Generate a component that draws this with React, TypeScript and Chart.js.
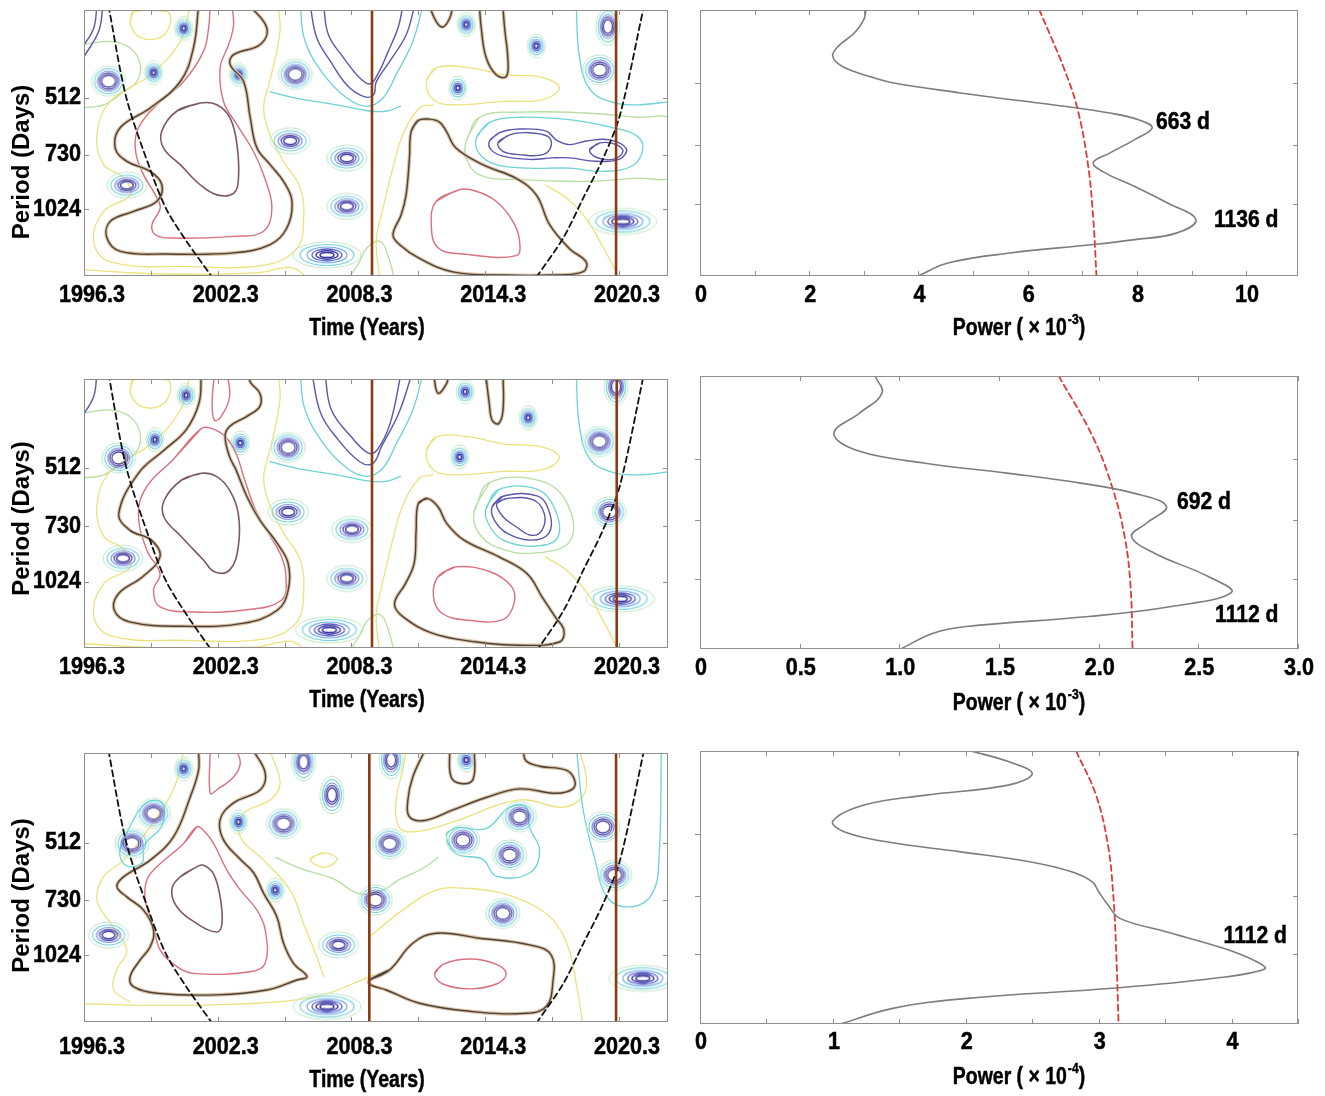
import React, { useEffect, useRef } from 'react';
import { Chart, registerables } from 'chart.js';

Chart.register(...registerables);

type Pt = [number, number];

const SANS = '"Liberation Sans", Arial, sans-serif';
// horizontal condensation used to mimic the narrow bold face of the original
const SQ_TICK = 0.9;
const SQ_TITLE = 0.81;
const SQ_NOTE = 0.88;

// ---------------- axes ----------------
const YEAR_MIN = 1996.3;
const YEAR_MAX = 2022.5;
const YEAR_TICKS = [1996.3, 1999.3, 2002.3, 2005.3, 2008.3, 2011.3, 2014.3, 2017.3, 2020.3];
const YEAR_LABELS = [1996.3, 2002.3, 2008.3, 2014.3, 2020.3];
const PERIOD_TICKS = [512, 730, 1024];
const LEFT_PERIOD_RANGES: Pt[] = [[297, 1549], [299, 1530], [294, 1549]];
const RIGHT_PERIOD_RANGES: Pt[] = [[337, 1547], [316, 1538], [316, 1536]];
const EVENT_YEARS: number[][] = [[2009.22, 2020.17], [2009.22, 2020.2], [2009.1, 2020.17]];

const POWER1_TICKS = [0, 1, 2, 3, 4, 5, 6, 7, 8, 9, 10];
const POWER1_LABELS = [0, 2, 4, 6, 8, 10];
const POWER2_TICKS = [0, 0.5, 1, 1.5, 2, 2.5, 3];
const POWER2_LABELS = [0, 0.5, 1, 1.5, 2, 2.5, 3];
const POWER3_TICKS = [0, 0.5, 1, 1.5, 2, 2.5, 3, 3.5, 4, 4.5];
const POWER3_LABELS = [0, 1, 2, 3, 4];
const POWER_MAX = [10.95, 3, 4.5];
const POWER_EXP = ['-3', '-3', '-4'];

// ---------------- cone of influence ----------------
const COI_LEFT: Pt[] = [[1997.4, 290], [1998.2, 512], [1999.3, 808], [2000.0, 1024], [2000.9, 1249], [2002.05, 1560]];
const COI_RIGHT: Pt[] = [[2016.6, 1560], [2017.8, 1223], [2018.7, 954], [2019.6, 744], [2020.35, 569], [2021.42, 290]];

// ---------------- row 1 contours ----------------
const R1_SIG_A: Pt[] = [[2001.44, 290], [2001.21, 376], [2000.62, 463], [1999.27, 546], [1997.93, 616], [1997.7, 700], [1998.22, 760], [1999.27, 809], [1999.79, 879], [1999.57, 974], [1998.52, 1037], [1997.48, 1103], [1997.33, 1224], [1997.93, 1329], [2000.02, 1351], [2003.01, 1342], [2004.65, 1275], [2005.4, 1150], [2005.63, 974], [2005.25, 861], [2004.65, 776], [2004.06, 700], [2003.76, 581], [2003.46, 463], [2002.86, 417], [2003.01, 392], [2004.21, 368], [2004.5, 332], [2003.76, 290]];
const R1_SIG_B: Pt[] = [[2011.28, 590], [2010.98, 630], [2010.9, 744], [2010.75, 936], [2010.53, 1059], [2010.16, 1199], [2010.46, 1275], [2011.35, 1389], [2012.85, 1510], [2015.09, 1540], [2017.33, 1540], [2018.68, 1510], [2018.83, 1421], [2018.08, 1307], [2017.19, 1126], [2016.59, 936], [2015.69, 845], [2014.19, 776], [2012.99, 700], [2012.55, 630], [2012.25, 596], [2011.8, 585]];
const R1_SIG_C: Pt[] = [[2014.04, 290], [2014.12, 332], [2014.34, 399], [2014.79, 444], [2015.24, 449], [2015.32, 407], [2015.17, 332], [2015.09, 290]];
const R1_SIG_D: Pt[] = [[2011.8, 290], [2012.1, 319], [2012.4, 330], [2012.7, 313], [2012.85, 290]];
const R1_RED_A: Pt[] = [[2001.96, 290], [2001.89, 332], [2001.66, 384], [2000.77, 463], [1999.57, 535], [1998.75, 616], [1998.6, 700], [1998.9, 809], [1999.5, 936], [1999.72, 1015], [1999.35, 1126], [1999.5, 1199], [2000.17, 1224], [2003.01, 1211], [2004.36, 1173], [2004.73, 1014], [2004.36, 827], [2003.91, 716], [2003.16, 605], [2002.56, 524], [2002.41, 425], [2002.79, 368], [2003.01, 326], [2002.94, 290]];
const R1_RED_B: Pt[] = [[2013.15, 906], [2012.1, 974], [2011.88, 1126], [2012.18, 1300], [2013.3, 1351], [2015.69, 1365], [2015.84, 1245], [2015.54, 1103], [2014.79, 974], [2013.9, 915]];
const R1_CORE_A: Pt[] = [[2001.51, 529], [2000.47, 556], [1999.79, 630], [1999.87, 700], [2000.62, 776], [2001.51, 879], [2002.26, 936], [2003.01, 927], [2003.23, 844], [2003.16, 684], [2002.86, 582], [2002.26, 535]];
const R1_PURPLE_U1: Pt[] = [[2006.45, 290], [2006.75, 354], [2007.35, 408], [2008.09, 473], [2008.84, 508], [2009.29, 503], [2009.41, 464], [2010.01, 409], [2010.75, 347], [2011.13, 290]];
const R1_PURPLE_U2: Pt[] = [[2007.05, 290], [2007.27, 347], [2007.94, 399], [2008.69, 454], [2009.14, 470], [2009.5, 440], [2009.9, 390], [2010.4, 330], [2010.6, 290]];
const R1_PURPLE_CORNER1: Pt[] = [[1996.2, 377], [1996.73, 333], [1996.88, 290]];
const R1_PURPLE_CORNER2: Pt[] = [[1996.2, 405], [1996.95, 340], [1997.15, 290]];
const R1_PURPLE_DUMB: Pt[] = [[2014.49, 670], [2014.94, 636], [2015.84, 622], [2017.04, 630], [2017.48, 665], [2018.08, 685], [2018.83, 670], [2019.88, 665], [2020.63, 703], [2020.33, 750], [2019.28, 760], [2018.08, 744], [2017.33, 744], [2016.29, 751], [2015.09, 736], [2014.57, 708]];
const R1_PURPLE_LOOP_L: Pt[] = [[2014.87, 678], [2015.39, 645], [2016.14, 636], [2017.11, 651], [2017.26, 690], [2016.89, 729], [2015.84, 729], [2015.09, 714]];
const R1_PURPLE_LOOP_R: Pt[] = [[2018.98, 708], [2019.43, 678], [2020.18, 685], [2020.48, 716], [2020.03, 751], [2019.28, 741]];
const R1_CYAN_DUMB: Pt[] = [[2013.9, 657], [2014.49, 597], [2015.84, 578], [2018.08, 587], [2019.88, 614], [2021.07, 647], [2021.37, 700], [2020.92, 780], [2019.58, 809], [2018.08, 793], [2016.29, 793], [2014.79, 776], [2014.04, 726]];
const R1_GREEN_DUMB: Pt[] = [[2013.45, 670], [2014.04, 578], [2015.84, 560], [2018.83, 563], [2021.07, 578], [2022.7, 591], [2022.7, 827], [2021.07, 844], [2018.83, 861], [2015.84, 852], [2014.04, 827], [2013.45, 744]];

// background contours shared by rows 1 and 2
const BG_CYAN_U: Pt[] = [[2006.0, 290], [2006.22, 361], [2007.05, 443], [2008.09, 513], [2008.99, 540], [2009.71, 513], [2010.31, 443], [2011.05, 361], [2011.5, 290]];
const BG_CYAN_MID: Pt[] = [[2004.65, 494], [2005.85, 514], [2007.65, 535], [2009.14, 556], [2009.9, 556], [2010.5, 540]];
const BG_CYAN_RIGHT: Pt[] = [[2018.38, 290], [2018.53, 399], [2018.98, 485], [2019.88, 524], [2021.07, 535], [2022.7, 524]];
const BG_GREEN_LEFT: Pt[] = [[1996.2, 545], [1997.18, 535], [1998.07, 494], [1998.67, 463], [1998.82, 417], [1998.37, 376], [1997.48, 361], [1996.2, 368]];
const BG_YEL_A: Pt[] = [[2001.06, 290], [2000.62, 361], [1999.27, 445], [1997.48, 524], [1996.88, 645], [1997.18, 776], [1998.07, 840], [1998.37, 936], [1997.18, 1037], [1996.73, 1250], [1997.48, 1420], [2000.77, 1460], [2004.5, 1445], [2005.85, 1307], [2006.15, 1100], [2006.0, 897], [2005.25, 760], [2004.65, 645], [2004.36, 547], [2004.6, 470], [2004.8, 420], [2005.0, 370], [2005.1, 330], [2005.0, 290]];
const BG_YEL_BOTTOM: Pt[] = [[1996.2, 1490], [2000.0, 1530], [2004.0, 1520], [2005.6, 1470], [2006.3, 1560]];
const BG_YEL_TOPLOOP: Pt[] = [[1998.52, 300], [1998.37, 323], [1998.82, 352], [1999.72, 352], [2000.17, 323], [2000.02, 300]];
const BG_YEL_B: Pt[] = [[2009.56, 1560], [2009.41, 1250], [2009.71, 1020], [2010.16, 790], [2010.6, 645], [2011.35, 546], [2011.95, 535]];
const BG_YEL_B2: Pt[] = [[2017.0, 880], [2018.0, 960], [2018.9, 1100], [2019.6, 1300], [2020.3, 1560]];
const BG_YEL_LOOP_B: Pt[] = [[2011.65, 463], [2012.1, 425], [2013.6, 425], [2015.09, 443], [2016.89, 452], [2017.63, 482], [2016.89, 518], [2015.09, 524], [2013.0, 535], [2012.0, 520]];
const BG_GREEN_BOTTOM: Pt[] = [[2008.2, 1560], [2008.6, 1440], [2009.0, 1300], [2009.6, 1250], [2010.0, 1400], [2010.2, 1560]];

// ---------------- row 2 contours ----------------
const R2_SIG_A: Pt[] = [[2001.56, 290], [2001.46, 346], [2000.88, 407], [1999.9, 460], [1998.74, 530], [1997.86, 676], [1998.35, 748], [1999.32, 795], [1999.71, 879], [1998.93, 993], [1997.86, 1099], [1997.66, 1217], [1998.35, 1306], [2000.68, 1341], [2003.41, 1318], [2004.97, 1217], [2005.46, 1077], [2005.46, 916], [2004.97, 811], [2004.19, 704], [2003.61, 611], [2003.12, 519], [2002.83, 479], [2002.63, 424], [2002.83, 399], [2003.61, 375], [2004.19, 353], [2004.19, 326], [2003.8, 307], [2003.61, 290]];
const R2_SIG_B: Pt[] = [[2011.69, 617], [2011.3, 636], [2011.2, 748], [2011.11, 916], [2010.72, 1035], [2010.23, 1169], [2010.62, 1267], [2011.98, 1402], [2013.93, 1475], [2015.88, 1505], [2017.63, 1475], [2017.83, 1374], [2017.44, 1267], [2016.85, 1122], [2016.17, 974], [2014.9, 879], [2013.35, 795], [2012.57, 718], [2012.18, 649]];
const R2_SIG_C: Pt[] = [[2014.32, 290], [2014.48, 346], [2014.61, 384], [2014.9, 392], [2015.1, 361], [2015.1, 290]];
const R2_SIG_D: Pt[] = [[2011.98, 290], [2012.18, 326], [2012.57, 307], [2012.65, 290]];
const R2_RED_A: Pt[] = [[2001.56, 404], [2000.29, 488], [1999.12, 574], [1998.74, 676], [1999.12, 845], [1999.71, 974], [1999.42, 1077], [1999.71, 1192], [2001.27, 1230], [2003.41, 1217], [2005.16, 1145], [2005.36, 993], [2005.16, 879], [2004.58, 763], [2004.0, 662], [2003.51, 552], [2003.12, 469], [2002.63, 424], [2002.05, 404]];
const R2_RED_TOP: Pt[] = [[2002.15, 290], [2002.05, 346], [2002.15, 384], [2002.44, 376], [2002.83, 333], [2002.73, 290]];
const R2_RED_B: Pt[] = [[2012.96, 935], [2012.18, 993], [2011.98, 1122], [2012.37, 1241], [2013.54, 1293], [2015.1, 1288], [2015.59, 1169], [2015.49, 1056], [2014.52, 963]];
const R2_CORE_A: Pt[] = [[2001.56, 530], [2000.68, 552], [1999.9, 624], [1999.9, 693], [2000.68, 780], [2001.66, 897], [2002.15, 963], [2002.83, 954], [2003.22, 828], [2003.22, 676], [2002.83, 587], [2002.24, 540]];
const R2_PURPLE_U1: Pt[] = [[2006.53, 290], [2006.92, 368], [2007.7, 432], [2008.67, 494], [2009.26, 499], [2009.65, 450], [2010.42, 368], [2011.01, 290]];
const R2_PURPLE_U2: Pt[] = [[2007.11, 290], [2007.4, 361], [2008.28, 424], [2009.06, 469], [2009.45, 460], [2010.03, 392], [2010.52, 290]];
const R2_PURPLE_LOOP: Pt[] = [[2014.81, 636], [2015.29, 617], [2016.46, 623], [2016.95, 677], [2016.85, 748], [2016.37, 772], [2015.69, 733], [2015.1, 690]];
const R2_PURPLE_LOOP2: Pt[] = [[2014.61, 649], [2015.1, 609], [2016.66, 609], [2017.2, 677], [2017.15, 763], [2016.37, 795], [2015.29, 763], [2014.71, 704]];
const R2_CYAN_LOOP: Pt[] = [[2014.32, 661], [2014.9, 585], [2016.66, 585], [2017.44, 661], [2017.54, 784], [2016.46, 825], [2015.1, 795], [2014.52, 733]];
const R2_GREEN_LOOP: Pt[] = [[2013.8, 670], [2014.5, 560], [2016.8, 555], [2018.0, 640], [2018.1, 800], [2016.5, 860], [2014.8, 830], [2014.0, 760]];

// ---------------- row 3 contours ----------------
const R3_SIG_A: Pt[] = [[2001.44, 290], [2001.44, 327], [2001.07, 385], [2000.32, 493], [1999.27, 570], [1998.07, 632], [1997.78, 672], [1998.22, 715], [1998.97, 776], [1999.42, 877], [1999.27, 973], [1998.82, 1056], [1998.37, 1170], [1998.52, 1245], [1999.57, 1297], [2002.26, 1310], [2004.5, 1271], [2005.85, 1195], [2006.3, 1170], [2005.7, 1078], [2005.25, 951], [2004.95, 808], [2004.36, 700], [2003.91, 616], [2003.31, 567], [2002.56, 503], [2002.41, 443], [2003.01, 400], [2004.21, 369], [2004.43, 333], [2003.91, 290]];
const R3_SIG_B: Pt[] = [[2009.11, 1195], [2010.01, 1123], [2011.05, 952], [2012.1, 895], [2014.04, 923], [2016.29, 962], [2017.26, 1024], [2017.33, 1219], [2017.04, 1408], [2016.14, 1468], [2013.6, 1450], [2011.35, 1380], [2009.86, 1271], [2009.11, 1227]];
const R3_SIG_C: Pt[] = [[2011.58, 290], [2011.05, 341], [2010.83, 393], [2010.9, 436], [2011.58, 446], [2012.85, 418], [2014.34, 387], [2015.84, 367], [2017.48, 377], [2018.23, 367], [2018.3, 346], [2017.93, 327], [2016.74, 319], [2016.14, 309], [2015.99, 290]];
const R3_SIG_D: Pt[] = [[2012.7, 290], [2012.77, 341], [2013.22, 355], [2013.75, 346], [2013.82, 290]];
const R3_RED_A: Pt[] = [[2001.36, 464], [2000.77, 514], [1999.57, 594], [1999.12, 644], [1999.05, 729], [1999.42, 860], [1999.72, 993], [2000.47, 1100], [2001.21, 1147], [2003.76, 1136], [2004.43, 1078], [2004.43, 877], [2004.06, 776], [2003.31, 685], [2002.71, 606], [2002.11, 514], [2001.66, 474]];
const R3_RED_TOP: Pt[] = [[2001.96, 290], [2001.96, 377], [2002.26, 369], [2003.01, 341], [2003.31, 314], [2003.16, 290]];
const R3_RED_B: Pt[] = [[2012.03, 1151], [2012.4, 1085], [2013.6, 1050], [2014.8, 1085], [2015.24, 1151], [2014.8, 1225], [2013.6, 1262], [2012.4, 1225]];
const R3_CORE_A: Pt[] = [[2001.36, 594], [2000.62, 632], [2000.24, 683], [2000.47, 761], [2001.36, 843], [2002.26, 888], [2002.49, 843], [2002.41, 717], [2002.11, 620], [2001.66, 588]];
const R3_CYAN_TRI: Pt[] = [[2012.55, 486], [2013.0, 466], [2014.34, 469], [2015.39, 411], [2016.14, 411], [2016.29, 466], [2016.74, 537], [2016.29, 617], [2014.79, 629], [2014.19, 567], [2013.0, 548]];
const R3_CYAN_PAIR: Pt[] = [[1997.9, 540], [1998.3, 470], [1999.1, 400], [1999.8, 400], [1999.8, 460], [1999.0, 520], [1998.9, 580], [1998.2, 590]];
const R3_YEL_BOTTOM: Pt[] = [[1996.2, 1382], [1999.27, 1397], [2003.76, 1382], [2006.75, 1323], [2008.54, 1211], [2009.29, 1158]];
const R3_YEL_AL: Pt[] = [[2000.77, 290], [2000.32, 367], [1999.27, 464], [1998.07, 570], [1997.18, 632], [1996.88, 729], [1997.48, 841], [1998.22, 993], [1997.78, 1120], [1997.63, 1270], [1998.37, 1370]];
const R3_YEL_AR: Pt[] = [[2004.65, 290], [2005.1, 355], [2004.65, 393], [2003.46, 427], [2003.31, 493], [2004.36, 570], [2005.55, 686], [2006.15, 844], [2006.75, 1037], [2007.05, 1170]];
const R3_YEL_MID: Pt[] = [[2009.11, 914], [2010.6, 776], [2012.1, 686], [2013.6, 679], [2015.09, 700], [2016.59, 761], [2017.48, 843], [2018.08, 1000], [2018.38, 1220], [2018.68, 1560]];
const R3_YEL_C: Pt[] = [[2010.75, 290], [2010.6, 327], [2010.3, 393], [2010.45, 466], [2011.2, 478], [2012.85, 450], [2015.84, 393], [2017.78, 411], [2018.68, 384], [2018.83, 341], [2018.53, 290]];
const R3_YEL_SMALL: Pt[] = [[2006.45, 566], [2007.05, 544], [2007.65, 566], [2007.05, 596]];
const R3_GREEN_MID: Pt[] = [[2004.9, 560], [2006.0, 600], [2007.5, 640], [2008.6, 700], [2009.6, 690], [2010.5, 640], [2011.5, 600], [2012.2, 560]];
const R3_CYAN_RIGHT: Pt[] = [[2018.4, 290], [2018.7, 420], [2019.2, 560], [2019.8, 720], [2020.9, 760], [2021.8, 700], [2022.1, 560], [2022.2, 290]];

// ---------------- blue "eye" centres ----------------
const R1_EYE_DOT: Pt[] = [[2000.77, 333], [1999.42, 438], [2003.23, 443], [2013.45, 325], [2016.59, 371], [2013.07, 482]];
const R1_EYE_RING: Pt[] = [[1997.4, 462], [2005.78, 443], [2019.43, 431]];
const R1_EYE_VRING: Pt[] = [[2019.8, 329]];
const R1_EYE_OVAL: Pt[] = [[2005.55, 669], [2008.09, 745], [1998.22, 882], [2008.09, 1005]];
const R1_EYE_FLAT: Pt[] = [[2007.2, 1359], [2020.47, 1104]];

const R2_EYE_DOT: Pt[] = [[2000.88, 330], [1999.48, 432], [2003.31, 441], [2013.4, 323], [2016.23, 378], [2013.15, 480]];
const R2_EYE_RING: Pt[] = [[1997.86, 483], [2005.46, 453], [2019.42, 437], [2019.87, 670]];
const R2_EYE_VRING: Pt[] = [[2020.17, 313]];
const R2_EYE_OVAL: Pt[] = [[2005.46, 670], [2008.32, 745], [1998.05, 888], [2008.09, 1003]];
const R2_EYE_FLAT: Pt[] = [[2007.31, 1371], [2020.36, 1135]];

const R3_EYE_DOT: Pt[] = [[2000.77, 324], [2003.23, 450], [2013.45, 307], [2004.88, 686]];
const R3_EYE_RING: Pt[] = [[1999.42, 427], [1998.45, 514], [2005.25, 455], [2010.01, 515], [2015.84, 436], [2013.3, 504], [2019.58, 464], [2020.1, 625], [2015.09, 792], [2009.37, 729], [2015.39, 552]];
const R3_EYE_VRING: Pt[] = [[2006.15, 311], [2007.42, 381], [2010.08, 307]];
const R3_EYE_OVAL: Pt[] = [[2007.72, 962], [1997.4, 905]];
const R3_EYE_FLAT: Pt[] = [[2007.2, 1408], [2021.37, 1183]];

// ---------------- global wavelet spectra ----------------
const GWS1: Pt[] = [[3.04, 336], [3.0, 356], [2.83, 384], [2.53, 415], [2.43, 439], [2.6, 465], [3.1, 493], [3.55, 512], [4.77, 542], [5.68, 563], [6.67, 585], [7.5, 608], [8.03, 632], [8.28, 662], [7.96, 708], [7.5, 765], [7.2, 809], [7.42, 857], [7.96, 926], [8.56, 1018], [9.08, 1120], [8.72, 1210], [7.96, 1256], [7.2, 1292], [5.68, 1356], [4.54, 1436], [4.01, 1543]];
const SIG1: Pt[] = [[6.21, 336], [6.45, 400], [6.65, 465], [6.9, 585], [7.1, 809], [7.2, 1110], [7.26, 1547]];
const GWS2: Pt[] = [[0.878, 316], [0.913, 349], [0.8, 392], [0.672, 440], [0.78, 485], [1.13, 524], [1.54, 555], [1.91, 588], [2.18, 624], [2.34, 673], [2.24, 742], [2.165, 801], [2.28, 883], [2.55, 1010], [2.666, 1108], [2.365, 1202], [1.95, 1274], [1.335, 1350], [1.17, 1403], [1.005, 1539]];
const SIG2: Pt[] = [[1.8, 316], [1.97, 449], [2.067, 600], [2.13, 801], [2.16, 1071], [2.17, 1538]];
const GWS3: Pt[] = [[2.04, 316], [2.32, 336], [2.5, 360], [2.32, 385], [1.7, 408], [1.236, 432], [1.0, 474], [1.08, 504], [1.39, 534], [1.95, 566], [2.48, 600], [2.79, 635], [2.95, 673], [3.0, 714], [3.07, 771], [3.16, 833], [3.5, 899], [3.94, 991], [4.19, 1071], [4.25, 1117], [3.87, 1179], [3.1, 1249], [2.01, 1324], [1.45, 1403], [1.05, 1539]];
const SIG3: Pt[] = [[2.83, 316], [2.98, 408], [3.07, 545], [3.11, 728], [3.13, 972], [3.15, 1538]];

// peak labels: [text, power, period]
const PEAKS1: [string, number, number][] = [['663 d', 8.35, 643], ['1136 d', 9.41, 1127]];
const PEAKS2: [string, number, number][] = [['692 d', 2.393, 659], ['1112 d', 2.584, 1268]];
const PEAKS3: [string, number, number][] = [['1112 d', 3.94, 923]];

// ---------------- styles ----------------
const COLORS: Record<string, string> = {
  yellow: '#ece27c', green: '#b7dda2', cyan: '#6cd3d7', purple: '#5a56aa',
  red: '#d9707e', core: '#7a5a62', sigTan: '#dcc2a3', sigDark: '#4b413d',
};
const ORDER: Record<string, number> = { yellow: 60, green: 61, cyan: 55, purple: 50, red: 30, core: 30 };
const WIDTH: Record<string, number> = { yellow: 1.3, green: 1.3, cyan: 1.3, purple: 1.4, red: 1.4, core: 1.6 };

const EYE_STYLES: Record<string, [number, number, string, number][]> = {
  dot: [[9, 12, '#c4e7c0', 1], [7, 9, '#72d5d9', 1.2], [5, 6.5, '#71aeea', 1.2], [3.4, 4.6, '#4d63cc', 1.4], [1.8, 2.6, '#36329c', 1.6]],
  ring: [[17, 15, '#bfe6c8', 1], [14, 12.5, '#6dd2dc', 1.1], [11, 10, '#7d98e0', 1.2], [9, 8, '#5852ad', 1.3], [7, 6, '#4e47a4', 1.3]],
  vring: [[12, 19, '#bfe6c8', 1], [9.5, 15.5, '#6dd2dc', 1.1], [7.5, 12, '#7d98e0', 1.2], [6, 9.5, '#5852ad', 1.3], [4.5, 7, '#4e47a4', 1.3]],
  oval: [[20, 13, '#bfe6c8', 1], [16, 10, '#6dd2dc', 1.1], [12, 7.5, '#7d98e0', 1.2], [9, 5.5, '#5852ad', 1.3], [6.5, 3.8, '#3f3aa2', 1.4]],
  flat: [[34, 13, '#c4e7c0', 1], [27, 10.5, '#6dd2dc', 1.1], [20, 8, '#71aeea', 1.2], [15, 6, '#5560c6', 1.3], [11, 4.2, '#3f3aa2', 1.4], [7, 2.6, '#36329c', 1.5]],
};

type LineSpec = [Pt[], string, boolean];
type LeftRow = {
  top: number; bottom: number; labelDy: number; yTitleDy: number; xTitleDy: number;
  lines: LineSpec[]; sig: [Pt[], boolean][]; eyes: Record<string, Pt[]>;
};

const BG_ROW12: LineSpec[] = [
  [BG_YEL_A, 'yellow', false], [BG_YEL_BOTTOM, 'yellow', false], [BG_YEL_TOPLOOP, 'yellow', true],
  [BG_YEL_B, 'yellow', false], [BG_YEL_B2, 'yellow', false], [BG_YEL_LOOP_B, 'yellow', true],
  [BG_GREEN_BOTTOM, 'green', false], [BG_GREEN_LEFT, 'green', false],
  [BG_CYAN_U, 'cyan', false], [BG_CYAN_MID, 'cyan', false], [BG_CYAN_RIGHT, 'cyan', false],
];

const LEFT_ROWS: LeftRow[] = [
  {
    top: 10, bottom: 276, labelDy: 19, yTitleDy: 19, xTitleDy: 52,
    lines: [
      ...BG_ROW12,
      [R1_GREEN_DUMB, 'green', true], [R1_CYAN_DUMB, 'cyan', true],
      [R1_PURPLE_U1, 'purple', false], [R1_PURPLE_U2, 'purple', false], [R1_PURPLE_CORNER1, 'purple', false], [R1_PURPLE_CORNER2, 'purple', false],
      [R1_PURPLE_DUMB, 'purple', true], [R1_PURPLE_LOOP_L, 'purple', true], [R1_PURPLE_LOOP_R, 'purple', true],
      [R1_RED_A, 'red', false], [R1_RED_B, 'red', true], [R1_CORE_A, 'core', true],
    ],
    sig: [[R1_SIG_A, false], [R1_SIG_B, true], [R1_SIG_C, false], [R1_SIG_D, false]],
    eyes: { dot: R1_EYE_DOT, ring: R1_EYE_RING, vring: R1_EYE_VRING, oval: R1_EYE_OVAL, flat: R1_EYE_FLAT },
  },
  {
    top: 379, bottom: 648, labelDy: 19, yTitleDy: 5, xTitleDy: 52,
    lines: [
      ...BG_ROW12,
      [R2_GREEN_LOOP, 'green', true], [R2_CYAN_LOOP, 'cyan', true],
      [R2_PURPLE_U1, 'purple', false], [R2_PURPLE_U2, 'purple', false], [R1_PURPLE_CORNER1, 'purple', false],
      [R2_PURPLE_LOOP, 'purple', true], [R2_PURPLE_LOOP2, 'purple', true],
      [R2_RED_A, 'red', true], [R2_RED_TOP, 'red', false], [R2_RED_B, 'red', true], [R2_CORE_A, 'core', true],
    ],
    sig: [[R2_SIG_A, false], [R2_SIG_B, true], [R2_SIG_C, false], [R2_SIG_D, false]],
    eyes: { dot: R2_EYE_DOT, ring: R2_EYE_RING, vring: R2_EYE_VRING, oval: R2_EYE_OVAL, flat: R2_EYE_FLAT },
  },
  {
    top: 753, bottom: 1022, labelDy: 25, yTitleDy: 8, xTitleDy: 58,
    lines: [
      [R3_YEL_BOTTOM, 'yellow', false], [R3_YEL_AL, 'yellow', false], [R3_YEL_AR, 'yellow', false],
      [R3_YEL_MID, 'yellow', false], [R3_YEL_C, 'yellow', false], [R3_YEL_SMALL, 'yellow', true],
      [R3_GREEN_MID, 'green', false], [R3_CYAN_RIGHT, 'cyan', false],
      [R3_CYAN_TRI, 'cyan', true], [R3_CYAN_PAIR, 'cyan', true],
      [R3_RED_A, 'red', true], [R3_RED_TOP, 'red', false], [R3_RED_B, 'red', true], [R3_CORE_A, 'core', true],
    ],
    sig: [[R3_SIG_A, false], [R3_SIG_B, true], [R3_SIG_C, false], [R3_SIG_D, false]],
    eyes: { dot: R3_EYE_DOT, ring: R3_EYE_RING, vring: R3_EYE_VRING, oval: R3_EYE_OVAL, flat: R3_EYE_FLAT },
  },
];

type RightRow = { top: number; bottom: number; gws: Pt[]; sig: Pt[]; peaks: [string, number, number][]; ticks: number[]; labels: number[]; fmt: (v: number) => string; labelDy: number; xTitleDy: number };
const RIGHT_ROWS: RightRow[] = [
  { top: 10, bottom: 276, gws: GWS1, sig: SIG1, peaks: PEAKS1, ticks: POWER1_TICKS, labels: POWER1_LABELS, fmt: (v) => String(v), labelDy: 19, xTitleDy: 52 },
  { top: 376, bottom: 649, gws: GWS2, sig: SIG2, peaks: PEAKS2, ticks: POWER2_TICKS, labels: POWER2_LABELS, fmt: (v) => (v === 0 ? '0' : v.toFixed(1)), labelDy: 19, xTitleDy: 54 },
  { top: 751, bottom: 1024, gws: GWS3, sig: SIG3, peaks: PEAKS3, ticks: POWER3_TICKS, labels: POWER3_LABELS, fmt: (v) => String(v), labelDy: 18, xTitleDy: 53 },
];

// ---------------- helpers ----------------
const has = (arr: number[], v: number) => arr.some((a) => Math.abs(a - v) < 1e-6);

function lineDs(pts: Pt[], color: string, width: number, order: number, closed = false, dash: number[] = [], tension = 0.4) {
  const src = closed ? [...pts, pts[0], pts[1]] : pts;
  return {
    type: 'scatter', data: src.map(([x, y]) => ({ x, y })), showLine: true,
    borderColor: color, backgroundColor: color, borderWidth: width, borderDash: dash,
    pointRadius: 0, pointHoverRadius: 0, tension, order, clip: 0, fill: false,
    borderCapStyle: 'round', borderJoinStyle: 'round',
  };
}

function makeEye(rings: [number, number, string, number][]) {
  const mx = Math.max(...rings.map((r) => r[0])) + 3;
  const my = Math.max(...rings.map((r) => r[1])) + 3;
  const c = document.createElement('canvas');
  c.width = Math.ceil(mx * 2);
  c.height = Math.ceil(my * 2);
  const g = c.getContext('2d')!;
  for (const [rx, ry, col, lw] of rings) {
    g.beginPath();
    g.ellipse(c.width / 2, c.height / 2, rx, ry, 0, 0, Math.PI * 2);
    g.strokeStyle = col;
    g.lineWidth = lw;
    g.stroke();
  }
  return c;
}

function narrowText(ctx: CanvasRenderingContext2D, text: string, x: number, y: number, align: 'left' | 'center' | 'right', sq: number, size = 24) {
  ctx.save();
  ctx.translate(x, y);
  ctx.scale(sq, 1);
  ctx.font = `bold ${size}px ${SANS}`;
  ctx.textAlign = align;
  ctx.textBaseline = 'middle';
  ctx.fillStyle = '#000';
  ctx.strokeStyle = '#000';
  ctx.lineWidth = 0.5;
  ctx.fillText(text, 0, 0);
  ctx.strokeText(text, 0, 0);
  ctx.restore();
}
function narrowWidth(ctx: CanvasRenderingContext2D, text: string, sq: number, size = 24) {
  ctx.save();
  ctx.font = `bold ${size}px ${SANS}`;
  const w = ctx.measureText(text).width * sq;
  ctx.restore();
  return w;
}

function framePlugin(leftOutside: boolean) {
  return {
    id: 'frame',
    afterDatasetsDraw(chart: any) {
      const { ctx, chartArea: a, scales } = chart;
      ctx.save();
      ctx.strokeStyle = '#8e8e8e';
      ctx.lineWidth = 1;
      ctx.strokeRect(Math.round(a.left) + 0.5, Math.round(a.top) + 0.5, Math.round(a.width) - 1, Math.round(a.height) - 1);
      const L = 5;
      ctx.beginPath();
      for (const t of scales.x.ticks) {
        const px = Math.round(scales.x.getPixelForValue(t.value)) + 0.5;
        ctx.moveTo(px, a.bottom); ctx.lineTo(px, a.bottom - L);
        ctx.moveTo(px, a.top); ctx.lineTo(px, a.top + L);
      }
      for (const t of scales.y.ticks) {
        const py = Math.round(scales.y.getPixelForValue(t.value)) + 0.5;
        if (leftOutside) { ctx.moveTo(a.left - L, py); ctx.lineTo(a.left, py); }
        else { ctx.moveTo(a.left, py); ctx.lineTo(a.left + L, py); }
        ctx.moveTo(a.right, py); ctx.lineTo(a.right - L, py);
      }
      ctx.stroke();
      ctx.restore();
    },
  };
}

function textPlugin(cfg: any) {
  return {
    id: 'texts',
    afterDraw(chart: any) {
      const { ctx, chartArea: a, scales } = chart;
      ctx.save();
      for (const v of cfg.xLabels) {
        narrowText(ctx, cfg.xFmt(v), scales.x.getPixelForValue(v) + cfg.xLabelDx, a.bottom + cfg.labelDy, 'center', SQ_TICK);
      }
      for (const v of cfg.yLabels || []) {
        narrowText(ctx, String(v), a.left - 3, scales.y.getPixelForValue(v), 'right', SQ_TICK);
      }
      if (cfg.yTitle) {
        ctx.save();
        ctx.translate(22, (a.top + a.bottom) / 2 + cfg.yTitleDy);
        ctx.rotate(-Math.PI / 2);
        ctx.font = `bold 24px ${SANS}`;
        ctx.textAlign = 'center';
        ctx.textBaseline = 'middle';
        ctx.fillStyle = '#000';
        ctx.fillText(cfg.yTitle, 0, 0);
        ctx.restore();
      }
      const cx = (a.left + a.right) / 2 + cfg.xTitleDx;
      const cy = a.bottom + cfg.xTitleDy;
      if (cfg.sup) {
        const w1 = narrowWidth(ctx, cfg.xTitle, SQ_TITLE);
        const w2 = narrowWidth(ctx, cfg.sup, SQ_TITLE, 15);
        const w3 = narrowWidth(ctx, ')', SQ_TITLE);
        let x = cx - (w1 + w2 + w3 + 1) / 2;
        narrowText(ctx, cfg.xTitle, x, cy, 'left', SQ_TITLE); x += w1 + 1;
        narrowText(ctx, cfg.sup, x, cy - 8, 'left', SQ_TITLE, 15); x += w2;
        narrowText(ctx, ')', x, cy, 'left', SQ_TITLE);
      } else {
        narrowText(ctx, cfg.xTitle, cx, cy, 'center', SQ_TITLE);
      }
      for (const [text, x, y] of cfg.notes || []) {
        narrowText(ctx, text, scales.x.getPixelForValue(x), scales.y.getPixelForValue(y), 'left', SQ_NOTE);
      }
      ctx.restore();
    },
  };
}

function buildLeft(canvas: HTMLCanvasElement, idx: number) {
  const row = LEFT_ROWS[idx];
  const [pMin, pMax] = LEFT_PERIOD_RANGES[idx];
  const datasets: any[] = [];
  for (const [pts, kind, closed] of row.lines) {
    datasets.push(lineDs(pts, COLORS[kind], WIDTH[kind], ORDER[kind], closed));
  }
  for (const [pts, closed] of row.sig) {
    datasets.push(lineDs(pts, COLORS.sigTan, 3.6, 22, closed));
    datasets.push(lineDs(pts, COLORS.sigDark, 1.4, 21, closed));
  }
  for (const key of Object.keys(row.eyes)) {
    const glyph = makeEye(EYE_STYLES[key]);
    datasets.push({
      type: 'scatter', data: row.eyes[key].map(([x, y]) => ({ x, y })), showLine: false,
      pointStyle: glyph, pointRadius: 5, pointHoverRadius: 5, order: 45, clip: 0,
    });
  }
  datasets.push(lineDs(COI_LEFT, '#111', 1.8, 10, false, [6, 4], 0.3));
  datasets.push(lineDs(COI_RIGHT, '#111', 1.8, 10, false, [6, 4], 0.3));
  for (const yr of EVENT_YEARS[idx]) {
    datasets.push(lineDs([[yr, pMin], [yr, pMax]], '#8c3a12', 2.6, 5, false, [], 0));
  }
  return new Chart(canvas, {
    type: 'scatter',
    data: { datasets },
    options: {
      animation: false, responsive: false, maintainAspectRatio: false, events: [],
      layout: { padding: { top: 10, right: 12, left: 0, bottom: 0 } },
      plugins: { legend: { display: false }, tooltip: { enabled: false } },
      scales: {
        x: {
          type: 'linear', min: YEAR_MIN, max: YEAR_MAX,
          afterBuildTicks: (s: any) => { s.ticks = YEAR_TICKS.map((v) => ({ value: v })); },
          afterFit: (s: any) => { s.height = 80; },
          grid: { display: false, drawTicks: false }, border: { display: false },
          ticks: { display: false },
        },
        y: {
          type: 'logarithmic', reverse: true, min: pMin, max: pMax,
          afterBuildTicks: (s: any) => { s.ticks = PERIOD_TICKS.map((v) => ({ value: v })); },
          afterFit: (s: any) => { s.width = 84; },
          grid: { display: false, drawTicks: false }, border: { display: false },
          ticks: { display: false },
        },
      },
    } as any,
    plugins: [
      framePlugin(false),
      textPlugin({
        xLabels: YEAR_LABELS, xFmt: (v: number) => v.toFixed(1), xLabelDx: 8, labelDy: row.labelDy,
        yLabels: PERIOD_TICKS, yTitle: 'Period (Days)', yTitleDy: row.yTitleDy,
        xTitle: 'Time (Years)', xTitleDx: -9, xTitleDy: row.xTitleDy,
      }),
    ],
  } as any);
}

function buildRight(canvas: HTMLCanvasElement, idx: number) {
  const row = RIGHT_ROWS[idx];
  const [pMin, pMax] = RIGHT_PERIOD_RANGES[idx];
  const datasets: any[] = [
    lineDs(row.gws, '#7d7d7d', 1.6, 2, false, [], 0.4),
    lineDs(row.sig, '#e03a3a', 1.8, 3, false, [6, 4], 0.4),
  ];
  return new Chart(canvas, {
    type: 'scatter',
    data: { datasets },
    options: {
      animation: false, responsive: false, maintainAspectRatio: false, events: [],
      layout: { padding: { top: 10, right: 27, left: 0, bottom: 0 } },
      plugins: { legend: { display: false }, tooltip: { enabled: false } },
      scales: {
        x: {
          type: 'linear', min: 0, max: POWER_MAX[idx],
          afterBuildTicks: (s: any) => { s.ticks = row.ticks.map((v) => ({ value: v })); },
          afterFit: (s: any) => { s.height = 80; },
          grid: { display: false, drawTicks: false }, border: { display: false },
          ticks: { display: false },
        },
        y: {
          type: 'logarithmic', reverse: true, min: pMin, max: pMax,
          afterBuildTicks: (s: any) => { s.ticks = PERIOD_TICKS.map((v) => ({ value: v })); },
          afterFit: (s: any) => { s.width = 20; },
          grid: { display: false, drawTicks: false }, border: { display: false },
          ticks: { display: false },
        },
      },
    } as any,
    plugins: [
      framePlugin(true),
      textPlugin({
        xLabels: row.labels, xFmt: row.fmt, xLabelDx: 1, labelDy: row.labelDy,
        xTitle: 'Power ( \u00d7 10', sup: POWER_EXP[idx], xTitleDx: 20, xTitleDy: row.xTitleDy, notes: row.peaks,
      }),
    ],
  } as any);
}

function Panel({ left, top, width, height, build, idx }: any) {
  const ref = useRef<HTMLCanvasElement>(null);
  useEffect(() => {
    const chart = build(ref.current!, idx);
    return () => chart.destroy();
  }, []);
  return <canvas ref={ref} width={width} height={height} style={{ position: 'absolute', left, top, width, height }} />;
}

export default function App() {
  return (
    <div style={{ position: 'absolute', left: 0, top: 0, width: 1325, height: 1096, background: '#fff', overflow: 'hidden' }}>
      {LEFT_ROWS.map((r, i) => (
        <Panel key={'l' + i} idx={i} build={buildLeft} left={0} top={r.top - 10} width={680} height={r.bottom - r.top + 90} />
      ))}
      {RIGHT_ROWS.map((r, i) => (
        <Panel key={'r' + i} idx={i} build={buildRight} left={680} top={r.top - 10} width={645} height={r.bottom - r.top + 90} />
      ))}
    </div>
  );
}
